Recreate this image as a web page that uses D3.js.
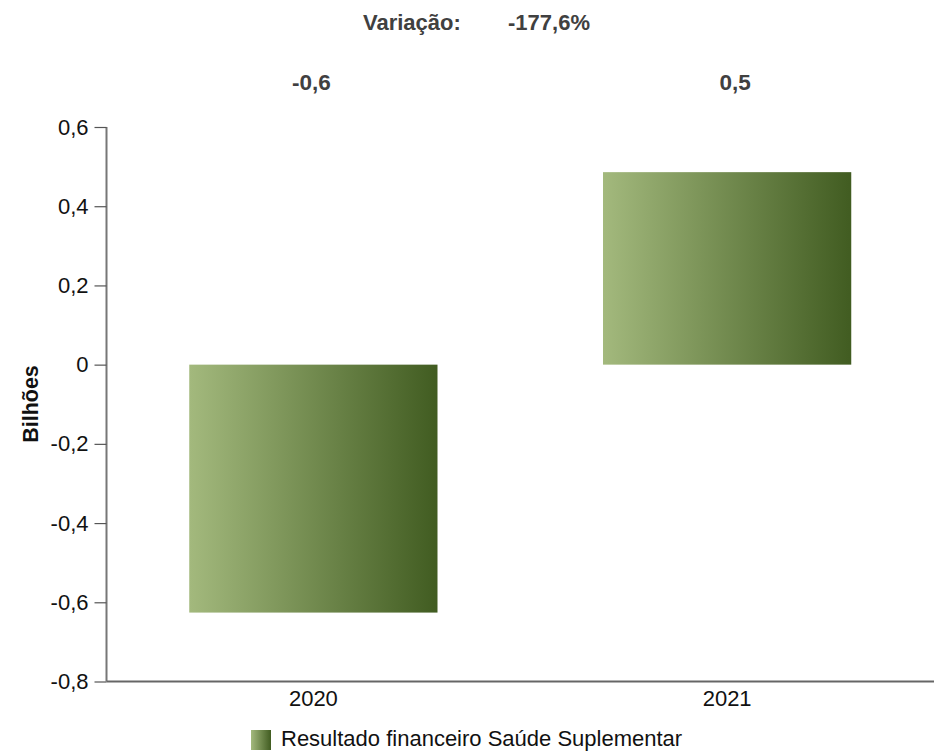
<!DOCTYPE html>
<html>
<head>
<meta charset="utf-8">
<script src="https://cdn.jsdelivr.net/npm/d3@7"></script>
<style>
  html, body { margin: 0; padding: 0; background: #fff; }
  svg { display: block; font-family: "Liberation Sans", Arial, sans-serif; }
</style>
</head>
<body>
<svg id="chart" width="936" height="751"></svg>
<script>
const categories = ["2020", "2021"];
const values = [-0.626, 0.486];
const valueLabels = ["-0,6", "0,5"];
const yTicks = [-0.8, -0.6, -0.4, -0.2, 0, 0.2, 0.4, 0.6];
const variationLabel = "Variação:";
const variationValue = "-177,6%";
const seriesName = "Resultado financeiro Saúde Suplementar";
const yTitle = "Bilhões";

const svg = d3.select("#chart");
const defs = svg.append("defs");
const grad = defs.append("linearGradient").attr("id", "barGrad")
  .attr("x1", "0%").attr("x2", "100%").attr("y1", "0%").attr("y2", "0%");
grad.append("stop").attr("offset", "0%").attr("stop-color", "#a3b97d");
grad.append("stop").attr("offset", "100%").attr("stop-color", "#415c21");

const x = d3.scaleBand().domain(categories).range([106.5, 934]).paddingInner(0.4).paddingOuter(0.2);
const y = d3.scaleLinear().domain([-0.8, 0.6]).range([681.5, 127]);

// bars
svg.append("g").selectAll("rect").data(categories).join("rect")
  .attr("x", d => x(d))
  .attr("width", x.bandwidth())
  .attr("y", (d, i) => y(Math.max(0, values[i])))
  .attr("height", (d, i) => Math.abs(y(values[i]) - y(0)))
  .attr("fill", "url(#barGrad)");

// y axis
const yAxis = d3.axisLeft(y).tickValues(yTicks).tickSize(12).tickPadding(6)
  .tickFormat(d => d === 0 ? "0" : d3.format(".1f")(d).replace(".", ",").replace("−", "-"));
const gy = svg.append("g").attr("transform", "translate(106.5,0)").call(yAxis);
gy.select(".domain").attr("stroke", "#777").attr("stroke-width", 2).attr("d", `M0,${y(0.6)}V${y(-0.8)}`);
gy.selectAll(".tick line").attr("stroke", "#555").attr("stroke-width", 1.2);
gy.selectAll(".tick text").attr("font-size", 22).attr("fill", "#111")
  .attr("font-family", "Liberation Sans, Arial, sans-serif");

// x axis
const xAxis = d3.axisBottom(x).tickSize(0).tickPadding(9);
const gx = svg.append("g").attr("transform", `translate(0,${y(-0.8)})`).call(xAxis);
gx.select(".domain").attr("stroke", "#666").attr("stroke-width", 2).attr("d", "M106.5,0H934");
gx.selectAll(".tick text").attr("font-size", 22).attr("fill", "#111")
  .attr("font-family", "Liberation Sans, Arial, sans-serif");

// value labels above
const labelNudge = [-2, 8];
svg.append("g").selectAll("text").data(categories).join("text")
  .attr("x", (d, i) => x(d) + x.bandwidth() / 2 + labelNudge[i])
  .attr("y", 90)
  .attr("text-anchor", "middle")
  .attr("font-size", 22.5).attr("font-weight", "bold").attr("fill", "#404040")
  .text((d, i) => valueLabels[i]);

// variation title
svg.append("text").attr("x", 363).attr("y", 30).attr("text-anchor", "start")
  .attr("font-size", 22).attr("font-weight", "bold").attr("fill", "#404040").text(variationLabel);
svg.append("text").attr("x", 508).attr("y", 30).attr("text-anchor", "start")
  .attr("font-size", 22).attr("font-weight", "bold").attr("fill", "#404040").text(variationValue);

// y title
svg.append("text").attr("transform", "translate(38,404) rotate(-90)")
  .attr("text-anchor", "middle").attr("font-size", 21.5).attr("font-weight", "bold")
  .attr("fill", "#111").text(yTitle);

// legend
const lg = svg.append("g");
lg.append("rect").attr("x", 251).attr("y", 730).attr("width", 20).attr("height", 20).attr("fill", "url(#barGrad)");
lg.append("text").attr("x", 281).attr("y", 745.5).attr("font-size", 22).attr("fill", "#111").text(seriesName);
</script>
</body>
</html>
